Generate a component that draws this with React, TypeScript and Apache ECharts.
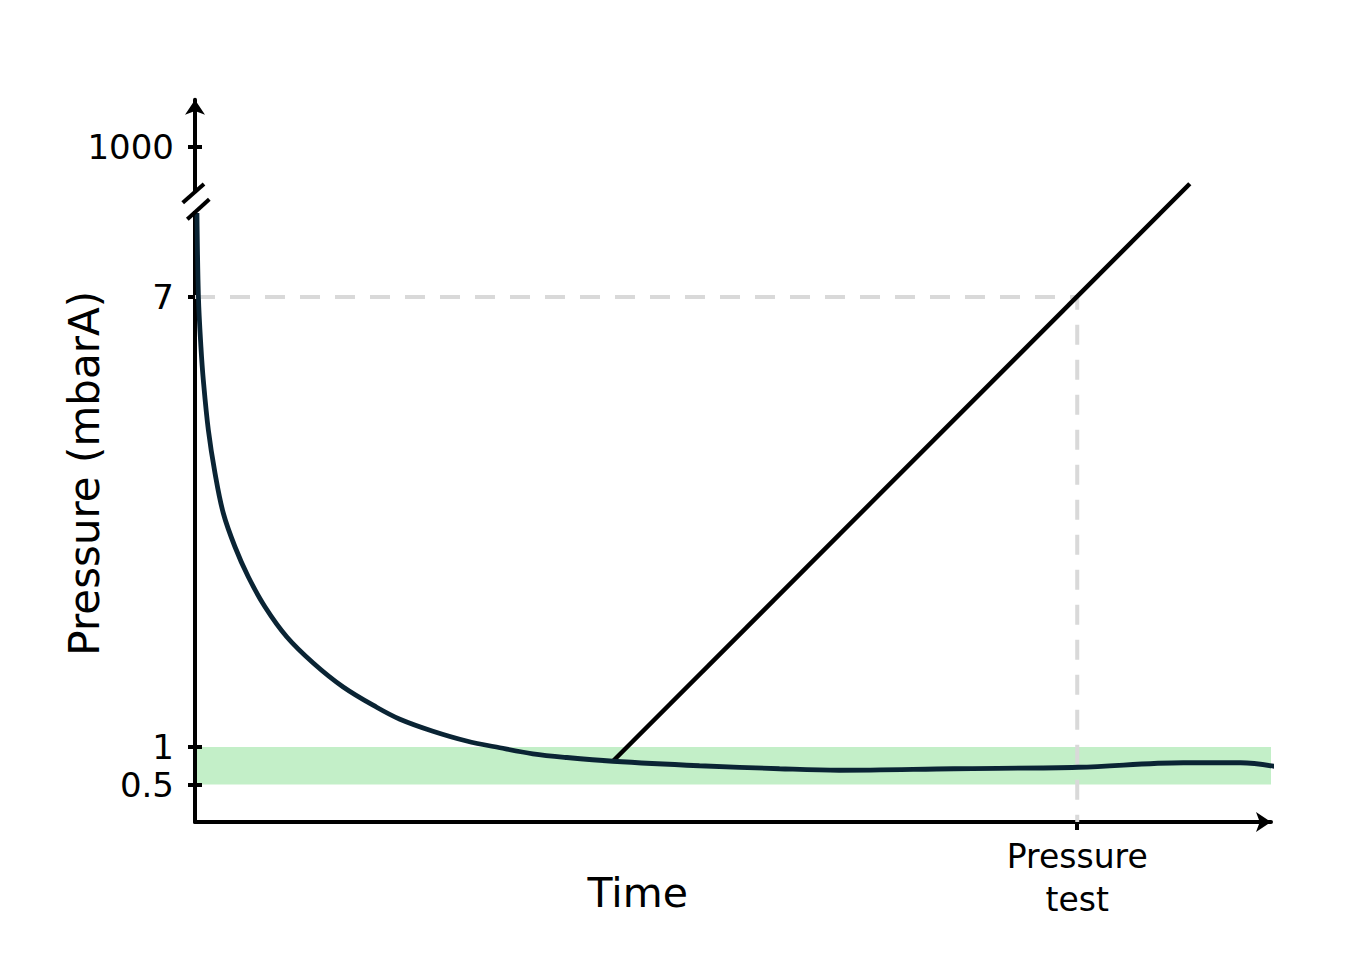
import React, { useEffect, useRef } from "react";
import * as echarts from "echarts";

// Curve: pressure during evacuation (x = time in arbitrary units, y = axis position units)
const curveTime = [0.18, 0.32, 0.55, 0.77, 1.23, 1.85, 2.61, 3.69, 4.92, 6.46, 8.47, 10.92, 13.69, 16.78, 18.93, 21.98, 25.09, 28.16, 31.21, 34.35, 38.6, 46.6, 54.0, 59.5, 70.1, 81.6, 91.3, 96.6, 100.2];
const curvePressure = [8.12, 6.99, 6.33, 5.89, 5.23, 4.65, 4.12, 3.67, 3.27, 2.87, 2.47, 2.12, 1.8, 1.53, 1.37, 1.21, 1.08, 0.99, 0.91, 0.86, 0.81, 0.75, 0.71, 0.69, 0.71, 0.73, 0.79, 0.79, 0.73];

// Leak line rising from the curve
const riseTime = [38.6, 91.9];
const risePressure = [0.81, 8.51];

// Pressure test reference
const testTime = 81.5;
const testPressure = 7;

// Target band
const bandLow = 0.5;
const bandHigh = 1;
const bandEnd = 100.2;

// Y tick values and labels (axis is broken between 7 and 1000)
const yTickValues = [0.5, 1, 7, 9];
const yTickLabels = ["0.5", "1", "7", "1000"];
const xTickValues = [testTime];
const xTickLabels = ["Pressure\ntest"];

const X_MAX = 99.4;
const Y_MAX = 9.63;
const BREAK_AT = 8.28;
const FONT = "DejaVu Sans";

export default function App() {
  const ref = useRef<HTMLDivElement>(null);

  useEffect(() => {
    if (!ref.current) return;
    const chart = echarts.init(ref.current, undefined, { renderer: "svg" });

    const tickStyle = { color: "#000", width: 4 };
    const option: any = {
      animation: false,
      backgroundColor: "#fff",
      grid: { left: 195, right: 100, top: 99.75, bottom: 131 },
      xAxis: {
        type: "value",
        min: 0,
        max: X_MAX,
        splitLine: { show: false },
        axisLine: {
          show: true,
          symbol: ["none", "arrow"],
          symbolSize: [15, 15],
          lineStyle: { color: "#000", width: 4 },
        },
        axisTick: { show: true, customValues: xTickValues, length: 8, lineStyle: tickStyle },
        axisLabel: {
          customValues: xTickValues,
          formatter: (v: number) => xTickLabels[xTickValues.indexOf(v)] ?? "",
          fontFamily: FONT,
          fontSize: 33,
          lineHeight: 43,
          color: "#000",
          margin: 13,
        },
      },
      yAxis: [
        {
          type: "value",
          min: 0,
          max: Y_MAX,
          splitLine: { show: false },
          axisLine: {
            show: true,
            symbol: ["none", "arrow"],
            symbolSize: [15, 15],
            lineStyle: { color: "#000", width: 4 },
          },
          axisTick: { show: true, customValues: yTickValues, length: 7, lineStyle: tickStyle },
          axisLabel: {
            customValues: yTickValues,
            formatter: (v: number) => yTickLabels[yTickValues.indexOf(v)] ?? "",
            fontFamily: FONT,
            fontSize: 34,
            color: "#000",
            margin: 21,
          },
        },
        {
          type: "value",
          min: 0,
          max: Y_MAX,
          position: "left",
          splitLine: { show: false },
          axisLine: { show: false },
          axisTick: { show: true, inside: true, customValues: yTickValues, length: 7, lineStyle: tickStyle },
          axisLabel: { show: false },
        },
      ],
      series: [
        {
          type: "line",
          name: "reference",
          data: [
            [0, testPressure],
            [testTime, testPressure],
            [testTime, 0],
          ],
          symbol: "none",
          z: 1,
          clip: false,
          lineStyle: { color: "#d9d9d9", width: 4, type: [20, 15] },
          markArea: {
            silent: true,
            z: 0,
            itemStyle: { color: "#c3efc8" },
            data: [[{ coord: [0, bandLow] }, { coord: [bandEnd, bandHigh] }]],
          },
        },
        {
          type: "line",
          name: "rise",
          data: riseTime.map((t, i) => [t, risePressure[i]]),
          symbol: "none",
          z: 3,
          lineStyle: { color: "#000", width: 4.5 },
        },
        {
          type: "line",
          name: "pressure",
          data: curveTime.map((t, i) => [t, curvePressure[i]]),
          symbol: "none",
          smooth: 0.35,
          clip: false,
          z: 4,
          lineStyle: { color: "#0a2434", width: 4.8 },
        },
      ],
    };
    chart.setOption(option);

    const x0 = chart.convertToPixel({ xAxisIndex: 0 }, 0) as number;
    const y0 = chart.convertToPixel({ yAxisIndex: 0 }, 0) as number;
    const yb = chart.convertToPixel({ yAxisIndex: 0 }, BREAK_AT) as number;
    const timeX = chart.convertToPixel({ xAxisIndex: 0 }, 40.9) as number;
    const nameY = chart.convertToPixel({ yAxisIndex: 0 }, 4.65) as number;

    chart.setOption({
      graphic: [
        {
          type: "rect",
          z: 100,
          shape: { x: x0 - 4, y: yb - 8, width: 8, height: 18 },
          style: { fill: "#fff" },
        },
        {
          type: "line",
          z: 101,
          shape: { x1: x0 - 12.3, y1: yb + 1.7, x2: x0 + 9, y2: yb - 17 },
          style: { stroke: "#000", lineWidth: 4 },
        },
        {
          type: "line",
          z: 101,
          shape: { x1: x0 - 7.7, y1: yb + 18.3, x2: x0 + 14.3, y2: yb - 1.7 },
          style: { stroke: "#000", lineWidth: 4 },
        },
        {
          type: "text",
          z: 101,
          x: timeX,
          y: y0 + 71,
          style: {
            text: "Time",
            fontFamily: FONT,
            fontSize: 41,
            fill: "#000",
            textAlign: "center",
            textVerticalAlign: "middle",
          },
        },
        {
          type: "text",
          z: 101,
          x: x0 - 111,
          y: nameY,
          rotation: Math.PI / 2,
          style: {
            text: "Pressure (mbarA)",
            fontFamily: FONT,
            fontSize: 42,
            fill: "#000",
            textAlign: "center",
            textVerticalAlign: "middle",
          },
        },
      ],
    });

    return () => chart.dispose();
  }, []);

  return (
    <div
      ref={ref}
      style={{ position: "absolute", left: 0, top: 0, width: 1371, height: 953, background: "#fff" }}
    />
  );
}
